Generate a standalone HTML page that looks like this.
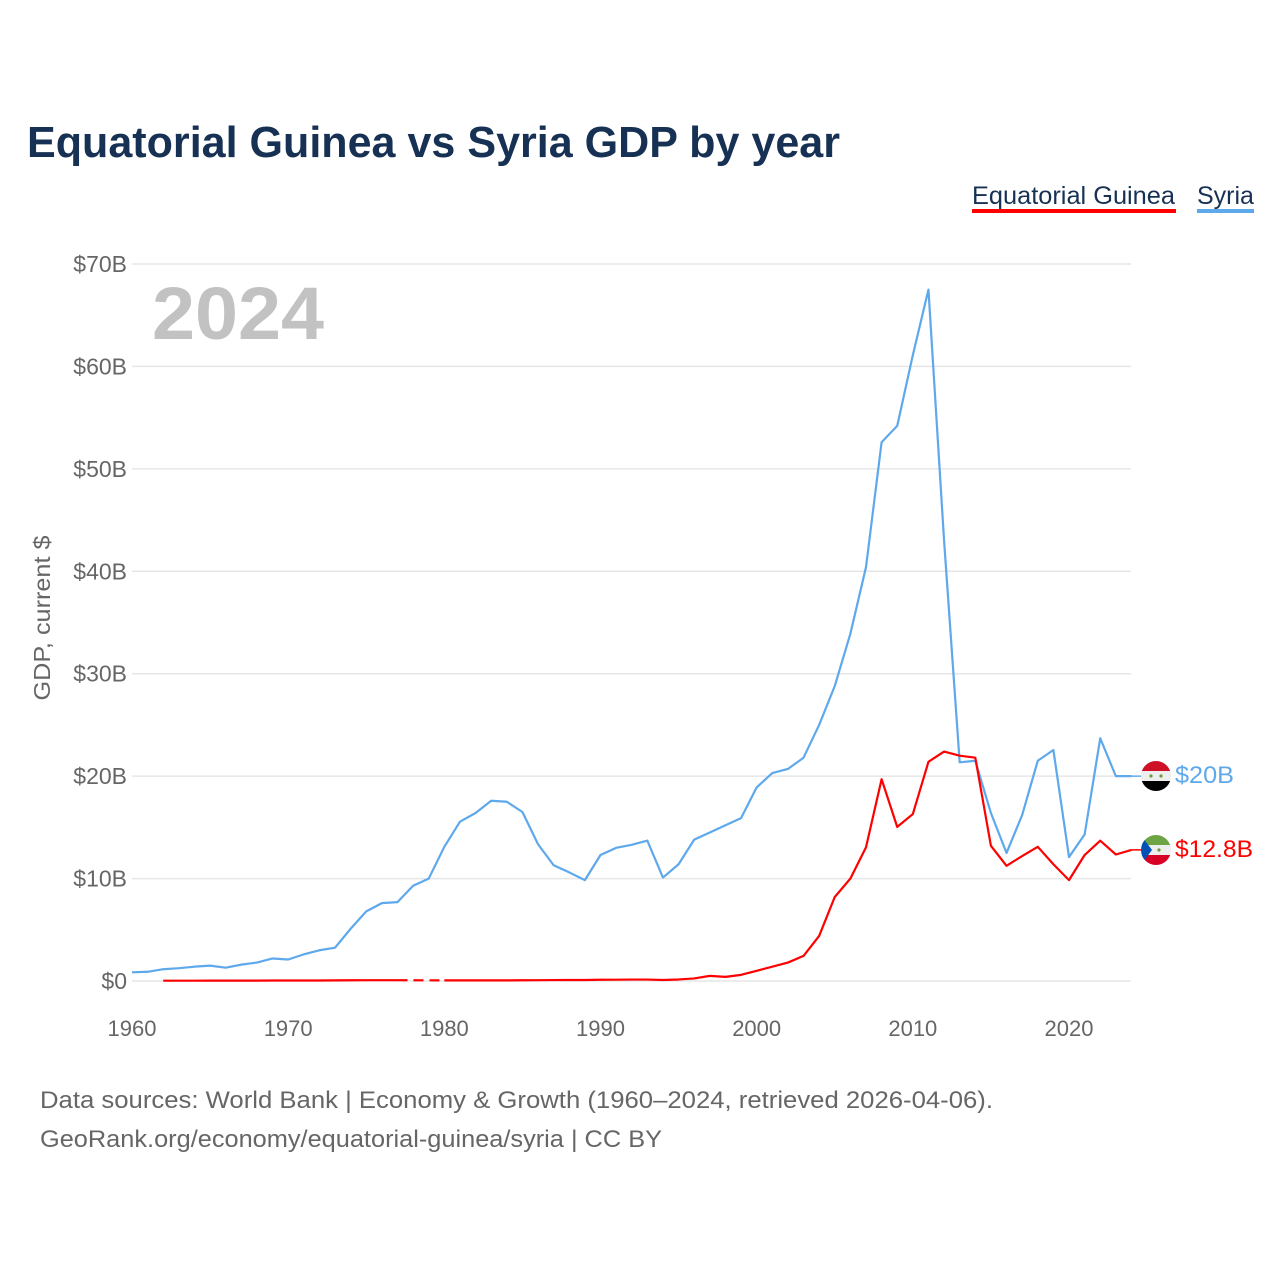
<!DOCTYPE html>
<html><head><meta charset="utf-8"><style>
body{margin:0;background:#fff;width:1280px;height:1280px;overflow:hidden;font-family:"Liberation Sans",sans-serif}
</style></head><body>
<svg width="1280" height="1280" xmlns="http://www.w3.org/2000/svg">
<text x="27" y="157" font-size="44" font-weight="bold" fill="#173154" textLength="813" lengthAdjust="spacingAndGlyphs">Equatorial Guinea vs Syria GDP by year</text>
<g>
<text x="972" y="204" font-size="25" fill="#173154" textLength="203" lengthAdjust="spacingAndGlyphs">Equatorial Guinea</text>
<rect x="972" y="209" width="204" height="4" fill="#ff0000"/></g>
<g>
<text x="1197" y="204" font-size="25" fill="#173154">Syria</text>
<rect x="1197" y="209" width="57" height="4" fill="#5ea8ec"/></g>
<g id="grid"></g>
<g id="yticks"></g>
<g id="xticks"></g>
<text x="0" y="0" transform="translate(50,618) rotate(-90)" text-anchor="middle" font-size="23" fill="#666" textLength="165" lengthAdjust="spacingAndGlyphs">GDP, current $</text>
<text x="152" y="339" font-size="74" font-weight="bold" fill="#c2c2c2" textLength="172" lengthAdjust="spacingAndGlyphs">2024</text>
<g id="series"></g>
<g>
<clipPath id="c1"><circle cx="1156" cy="776" r="15"/></clipPath>
<g clip-path="url(#c1)"><rect x="1140" y="760" width="32" height="11" fill="#ce1126"/><rect x="1140" y="771" width="32" height="10" fill="#eee"/><rect x="1140" y="781" width="32" height="11" fill="#000"/>
<circle cx="1151" cy="776" r="1.6" fill="#6a9a3a"/><circle cx="1161" cy="776" r="1.6" fill="#6a9a3a"/></g></g>
<g>
<clipPath id="c2"><circle cx="1156" cy="850" r="15"/></clipPath>
<g clip-path="url(#c2)"><rect x="1140" y="834" width="32" height="11" fill="#6da544"/><rect x="1140" y="845" width="32" height="10" fill="#eee"/><rect x="1140" y="855" width="32" height="11" fill="#d80027"/>
<polygon points="1140,834 1152,850 1140,866" fill="#0052b4"/><circle cx="1159" cy="850" r="1.6" fill="#6a9a3a"/></g></g>
<text x="1175" y="783" font-size="24" fill="#5ea8ec" textLength="59" lengthAdjust="spacingAndGlyphs">$20B</text>
<text x="1175" y="857" font-size="24" fill="#ff0000" textLength="78" lengthAdjust="spacingAndGlyphs">$12.8B</text>
<text x="40" y="1108" font-size="24" fill="#666" textLength="953" lengthAdjust="spacingAndGlyphs">Data sources: World Bank | Economy &amp; Growth (1960–2024, retrieved 2026-04-06).</text>
<text x="40" y="1147" font-size="24" fill="#666" textLength="622" lengthAdjust="spacingAndGlyphs">GeoRank.org/economy/equatorial-guinea/syria | CC BY</text>
</svg>
<script>
const years=[];for(let y=1960;y<=2024;y++)years.push(y);
const syria=[0.85,0.9,1.15,1.25,1.4,1.5,1.3,1.6,1.8,2.2,2.1,2.6,3.0,3.25,5.1,6.8,7.6,7.7,9.3,10.0,13.1,15.55,16.4,17.6,17.5,16.5,13.35,11.3,10.6,9.85,12.3,13.0,13.3,13.7,10.1,11.4,13.8,14.5,15.2,15.9,18.9,20.3,20.7,21.8,25.0,28.8,33.9,40.4,52.6,54.2,61.1,67.5,43.0,21.35,21.5,16.4,12.5,16.2,21.5,22.55,12.1,14.3,23.7,20.0,20.0];
const eguinea=[null,null,0.03,0.03,0.03,0.04,0.04,0.04,0.04,0.05,0.05,0.05,0.05,0.06,0.07,0.08,0.08,0.08,null,null,0.06,0.06,0.06,0.06,0.06,0.07,0.08,0.09,0.1,0.1,0.12,0.13,0.14,0.14,0.1,0.15,0.25,0.5,0.4,0.6,1.0,1.4,1.8,2.45,4.4,8.2,10.0,13.05,19.7,15.05,16.3,21.4,22.4,22.0,21.8,13.2,11.25,12.2,13.1,11.4,9.85,12.3,13.7,12.35,12.8];
const yTicks=[0,10,20,30,40,50,60,70];
const yTickLabels=["$0","$10B","$20B","$30B","$40B","$50B","$60B","$70B"];
const xTicks=[1960,1970,1980,1990,2000,2010,2020];
const NS="http://www.w3.org/2000/svg";
const X=y=>132+(y-1960)*(1069-132)/60;
const Y=v=>981-v*(981-264)/70;
function mk(t,a,p){const e=document.createElementNS(NS,t);for(const k in a)e.setAttribute(k,a[k]);p.appendChild(e);return e;}
const grid=document.getElementById('grid'),yt=document.getElementById('yticks'),xt=document.getElementById('xticks'),sg=document.getElementById('series');
yTicks.forEach((v,i)=>{
 const l=mk('line',{x1:132,x2:1131,y1:Y(v),y2:Y(v),stroke:'#e6e6e6','stroke-width':1.5},grid);
 
 
 const t=mk('text',{x:127,y:Y(v)+8,'text-anchor':'end','font-size':23,fill:'#666'},yt);
 t.textContent=yTickLabels[i];
 
 
});
xTicks.forEach(v=>{
 const t=mk('text',{x:X(v),y:1036,'text-anchor':'middle','font-size':22,fill:'#666'},xt);
 t.textContent=v;
 
 
});
function draw(vals,color,name){
 let segs=[],cur=[];
 vals.forEach((v,i)=>{if(v==null){if(cur.length)segs.push(cur);cur=[];}else cur.push([X(years[i]),Y(v)]);});
 if(cur.length)segs.push(cur);
 segs.forEach(s=>{
  const p=mk('polyline',{points:s.map(q=>q.join(',')).join(' '),fill:'none',stroke:color,'stroke-width':2.2,'stroke-linejoin':'round'},sg);
  
  
 });
 for(let k=0;k+1<segs.length;k++){
  const a=segs[k][segs[k].length-1],b=segs[k+1][0];
  const d=mk('line',{x1:a[0],y1:a[1],x2:b[0],y2:b[1],stroke:color,'stroke-width':2.2,'stroke-dasharray':'10,6'},sg);
  
  
 }
 const last=vals[vals.length-1];
 const ld=mk('line',{x1:X(2024),y1:Y(last),x2:1142,y2:Y(last),stroke:color,'stroke-width':1.5},sg);
 
 
}
draw(syria,'#5ea8ec','syria-line');
draw(eguinea,'#ff0000','equatorial-guinea-line');
</script>
</body></html>
